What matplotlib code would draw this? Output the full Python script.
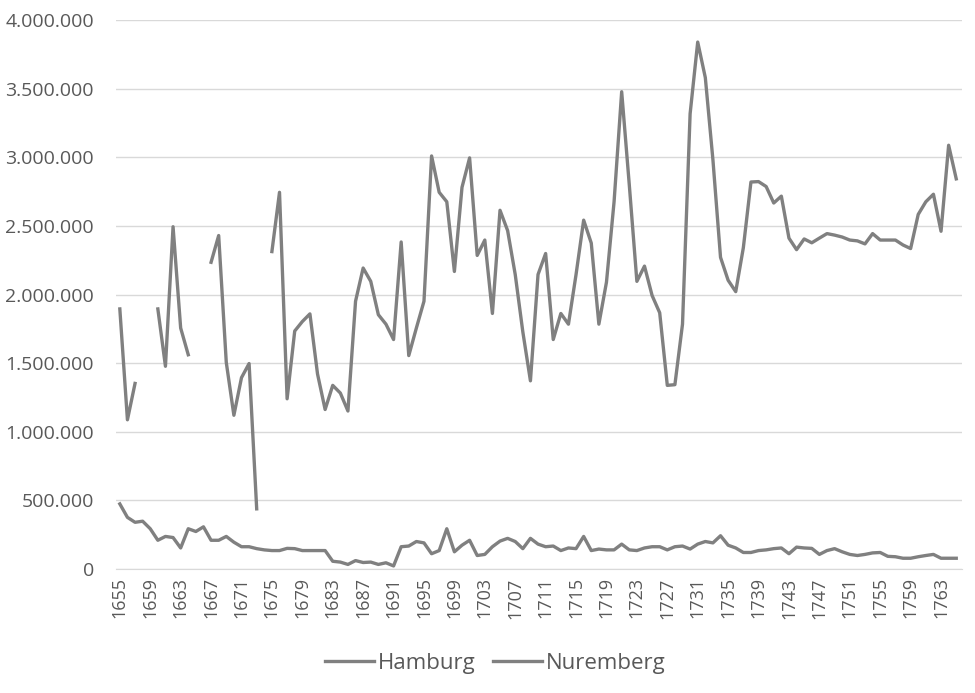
import numpy as np
import matplotlib
matplotlib.use("Agg")
import matplotlib.pyplot as plt
from matplotlib.ticker import FuncFormatter

plt.rcParams["font.family"] = ["Open Sans", "DejaVu Sans"]

nan = np.nan

years = list(range(1655, 1766))

hamburg = [
    1895000, 1087000, 1352000, nan, nan, 1895000, 1477000, 2494000, 1756000, 1561000,  # 1655-1664
    nan, nan, 2235000, 2430000, 1505000, 1120000, 1394000, 1497000, 438000, nan,  # 1665-1674
    2313000, 2745000, 1240000, 1734000, 1803000, 1859000, 1421000, 1162000, 1338000, 1282000,  # 1675-1684
    1151000, 1951000, 2193000, 2096000, 1853000, 1784000, 1672000, 2383000, 1555000, 1756000,  # 1685-1694
    1951000, 3010000, 2745000, 2676000, 2168000, 2781000, 2996000, 2285000, 2397000, 1862000,  # 1695-1704
    2614000, 2466000, 2146000, 1728000, 1371000, 2146000, 2299000, 1672000, 1862000, 1784000,  # 1705-1714
    2146000, 2542000, 2375000, 1784000, 2090000, 2676000, 3478000, 2800000, 2096000, 2207000,  # 1715-1724
    1993000, 1867000, 1338000, 1343000, 1784000, 3317000, 3840000, 3581000, 2982000, 2271000,  # 1725-1734
    2104000, 2021000, 2341000, 2820000, 2823000, 2787000, 2667000, 2717000, 2411000, 2327000,  # 1735-1744
    2405000, 2377000, 2411000, 2444000, 2433000, 2419000, 2397000, 2391000, 2369000, 2444000,  # 1745-1754
    2397000, 2397000, 2397000, 2361000, 2335000, 2584000, 2676000, 2731000, 2461000, 3088000,  # 1755-1764
    2843000,  # 1765
]

nuremberg = [
    474000, 376000, 340000, 348000, 293000, 209000, 237000, 229000, 153000, 293000,  # 1655-1664
    273000, 307000, 209000, 209000, 237000, 195000, 162000, 162000, 148000, 139000,  # 1665-1674
    134000, 134000, 150000, 148000, 134000, 134000, 134000, 134000, 56000, 50000,  # 1675-1684
    33000, 61000, 47000, 50000, 33000, 45000, 22000, 162000, 167000, 200000,  # 1685-1694
    190000, 111000, 134000, 293000, 125000, 173000, 209000, 98000, 106000, 162000,  # 1695-1704
    203000, 223000, 200000, 148000, 223000, 181000, 162000, 167000, 134000, 153000,  # 1705-1714
    148000, 237000, 134000, 145000, 139000, 139000, 181000, 139000, 134000, 153000,  # 1715-1724
    162000, 162000, 139000, 162000, 167000, 145000, 181000, 200000, 190000, 242000,  # 1725-1734
    173000, 153000, 120000, 120000, 134000, 139000, 148000, 153000, 111000, 159000,  # 1735-1744
    153000, 150000, 106000, 134000, 148000, 125000, 106000, 98000, 106000, 117000,  # 1745-1754
    120000, 92000, 89000, 78000, 78000, 89000, 98000, 106000, 78000, 78000,  # 1755-1764
    78000,  # 1765
]

y_ticks = [0, 500000, 1000000, 1500000, 2000000, 2500000, 3000000, 3500000, 4000000]

line_color = "#808080"
text_color = "#595959"

fig = plt.figure(figsize=(9.75, 6.93), dpi=100)
ax = fig.add_axes([0.119, 0.179, 0.868, 0.792])

ax.plot(years, hamburg, color=line_color, linewidth=2.4, label="Hamburg")
ax.plot(years, nuremberg, color=line_color, linewidth=2.4, label="Nuremberg")

ax.set_xlim(1654.5, 1765.8)
ax.set_ylim(0, 4000000)
ax.set_yticks(y_ticks)
ax.yaxis.set_major_formatter(
    FuncFormatter(lambda v, pos: f"{int(v):,}".replace(",", "."))
)
ax.set_xticks(list(range(1655, 1766, 4)))
ax.tick_params(axis="x", rotation=90, length=0, labelsize=13, colors=text_color, pad=6)
ax.tick_params(axis="y", length=0, labelsize=14, colors=text_color, pad=16)

ax.grid(axis="y", color="#d9d9d9", linewidth=1)
ax.set_axisbelow(True)
for side in ["top", "right", "left"]:
    ax.spines[side].set_visible(False)
ax.spines["bottom"].set_color("#d9d9d9")

handles, labels = ax.get_legend_handles_labels()
leg = fig.legend(
    handles,
    labels,
    loc="center",
    bbox_to_anchor=(0.508, 0.043),
    ncol=2,
    frameon=False,
    fontsize=16,
    handlelength=2.2,
    handletextpad=0.15,
    columnspacing=0.8,
)
for t in leg.get_texts():
    t.set_color(text_color)

plt.savefig("out.png", dpi=100, facecolor="white")
plt.close()
